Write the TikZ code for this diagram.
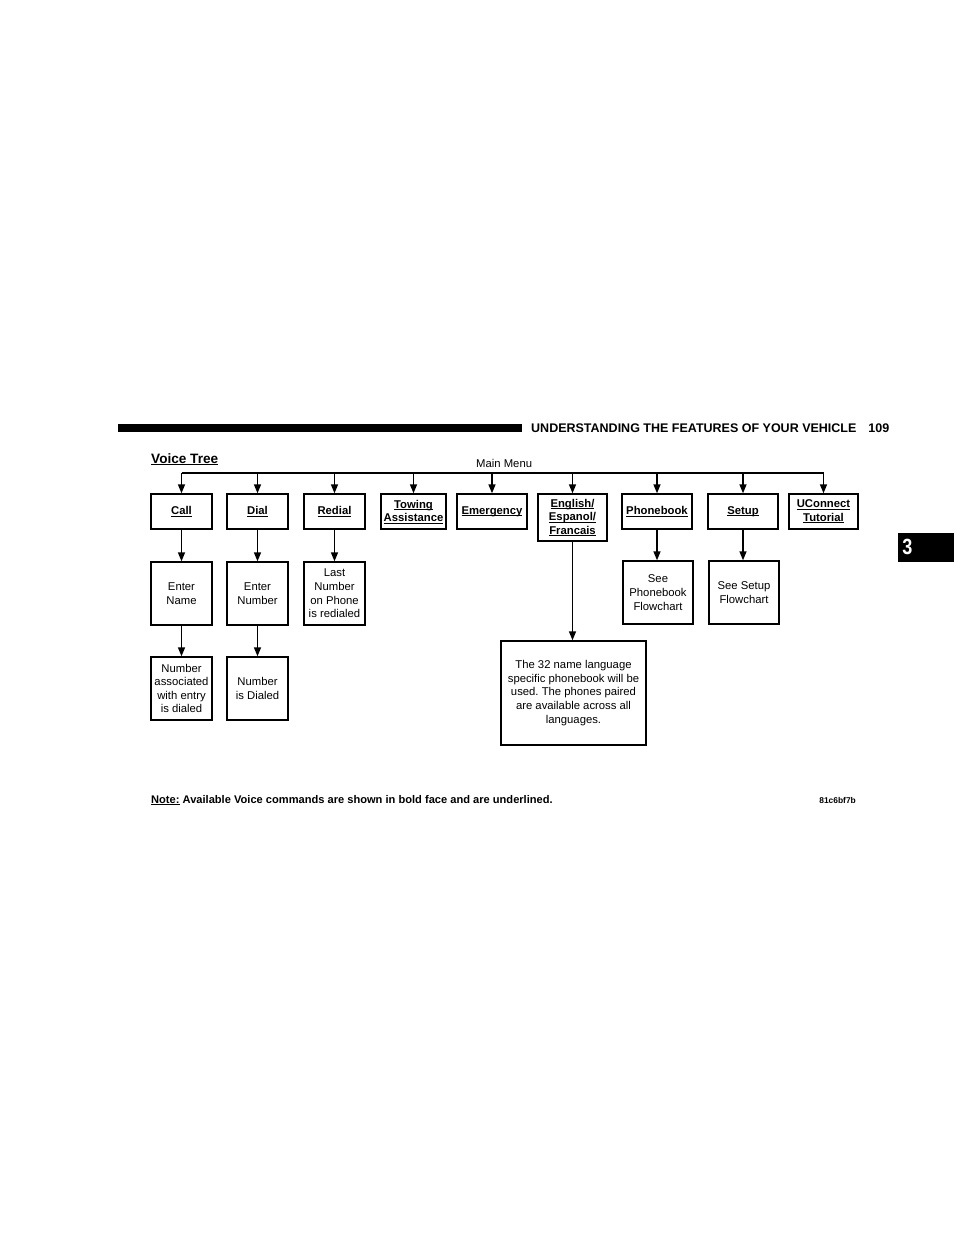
\documentclass[tikz,border=0pt]{standalone}
\usepackage{fontspec}
\setmainfont{Liberation Sans}
\newfontfamily\narrowfont[FakeStretch=0.82]{Liberation Sans}
\usetikzlibrary{arrows.meta}
\frenchspacing
\newcommand{\uln}[1]{\setbox0\hbox{#1}\rlap{\rule[-1.7pt]{\wd0}{0.65pt}}\box0\relax}
\begin{document}
\begin{tikzpicture}[x=1pt,y=-1pt,
  box/.style={draw,line width=1.4pt,inner sep=0pt,align=center,font=\fontsize{11.3}{13.6}\selectfont},
  cmd/.style={box,font=\fontsize{11.3}{13.4}\selectfont\bfseries},
  smallbox/.style={box,minimum width=61pt,minimum height=63pt},
  widebox/.style={box,minimum width=70pt,minimum height=63pt},
  arr/.style={-{Triangle[length=9pt,width=7pt]},line width=1.5pt},
  bus/.style={line width=1.5pt}]
\useasboundingbox (0,0) rectangle (954,1235);
% header
\fill (118,424) rectangle (522,432);
\node[anchor=base west,inner sep=0pt,font=\fontsize{12.5}{15}\selectfont\bfseries] (hdr) at (531,432) {UNDERSTANDING THE FEATURES OF YOUR VEHICLE\hspace{12pt}109};
% tab
\fill (898,533) rectangle (954,562);
\node[text=white,inner sep=0pt,font=\fontsize{22}{24}\selectfont\narrowfont\bfseries] (tab) at (907.5,547) {3};
% title
\node[anchor=base west,inner sep=0pt,font=\fontsize{13.6}{16}\selectfont\bfseries] (title) at (151,463) {\uln{Voice Tree}};
\node[anchor=base west,inner sep=0pt,font=\fontsize{11.3}{13}\selectfont] (mm) at (476,467) {Main Menu};
% top row
\node[cmd,minimum width=61pt,minimum height=35pt] (call) at (181.5,511.5) {\uln{Call}};
\node[cmd,minimum width=61pt,minimum height=35pt] (dial) at (257.5,511.5) {\uln{Dial}};
\node[cmd,minimum width=61pt,minimum height=35pt] (redial) at (334.5,511.5) {\uln{Redial}};
\node[cmd,minimum width=65pt,minimum height=35pt] (towing) at (413.5,511.5) {\uln{Towing}\\\uln{Assistance}};
\node[cmd,minimum width=70pt,minimum height=35pt] (emerg) at (492,511.5) {\uln{Emergency}};
\node[cmd,minimum width=69pt,minimum height=47pt] (english) at (572.5,517.5) {\uln{English/}\\\uln{Espanol/}\\\uln{Francais}};
\node[cmd,minimum width=70pt,minimum height=35pt] (phone) at (657,511.5) {\uln{Phonebook}};
\node[cmd,minimum width=70pt,minimum height=35pt] (setup) at (743,511.5) {\uln{Setup}};
\node[cmd,minimum width=69pt,minimum height=35pt] (ucon) at (823.5,511.5) {\uln{UConnect}\\\uln{Tutorial}};
% second row
\node[smallbox] (ename) at (181.5,593.5) {Enter\\Name};
\node[smallbox] (enum) at (257.5,593.5) {Enter\\Number};
\node[smallbox] (last) at (334.5,593.5) {Last\\Number\\on Phone\\is redialed};
\node[widebox] (seepb) at (658,592.5) {See\\Phonebook\\Flowchart};
\node[widebox] (seesetup) at (744,592.5) {See Setup\\Flowchart};
% third row
\node[smallbox] (numassoc) at (181.5,688.5) {Number\\associated\\with entry\\is dialed};
\node[smallbox] (numdial) at (257.5,688.5) {Number\\is Dialed};
\node[box,minimum width=145pt,minimum height=104pt] (lang) at (573.5,693) {The 32 name language\\specific phonebook will be\\used. The phones paired\\are available across all\\languages.};
% bus
\coordinate (busy) at (0,473);
\draw[bus] (call.north |- busy) -- (ucon.north |- busy);
\foreach \n in {call,dial,redial,towing,emerg,english,phone,setup,ucon}
  \draw[arr] (\n.north |- busy) -- (\n.north);
% vertical arrows
\draw[arr] (call.south) -- (ename.north);
\draw[arr] (dial.south) -- (enum.north);
\draw[arr] (redial.south) -- (last.north);
\draw[arr] (english.south) -- (english.south |- lang.north);
\draw[arr] (phone.south) -- (phone.south |- seepb.north);
\draw[arr] (setup.south) -- (setup.south |- seesetup.north);
\draw[arr] (ename.south) -- (numassoc.north);
\draw[arr] (enum.south) -- (numdial.north);
% note
\node[anchor=base west,inner sep=0pt,font=\fontsize{11.1}{13}\selectfont\bfseries] (note) at (151,803) {\uln{Note:} Available Voice commands are shown in bold face and are underlined.};
\node[anchor=base east,inner sep=0pt,font=\fontsize{8.4}{10}\selectfont\bfseries] (code) at (856,803) {81c6bf7b};
\end{tikzpicture}
\end{document}
